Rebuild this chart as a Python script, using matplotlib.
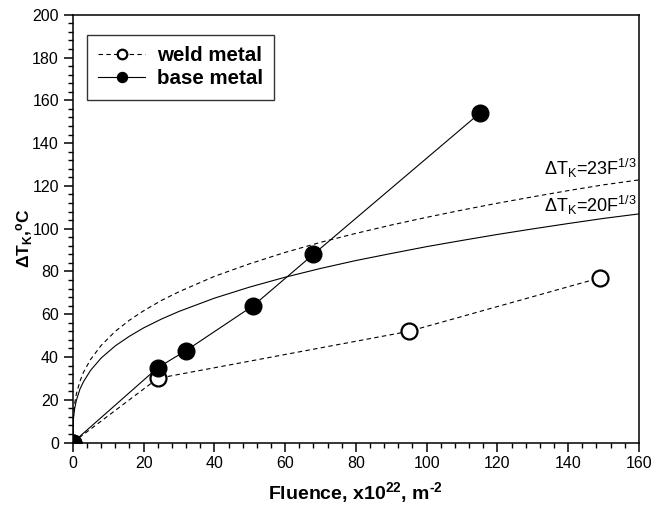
import matplotlib
matplotlib.use("Agg")
import matplotlib.pyplot as plt
from matplotlib.ticker import MultipleLocator

plt.rcParams['font.family'] = ['Liberation Sans', 'DejaVu Sans']
plt.rcParams['mathtext.fontset'] = 'custom'
plt.rcParams['mathtext.rm'] = 'Liberation Sans'
plt.rcParams['mathtext.it'] = 'Liberation Sans:italic'
plt.rcParams['mathtext.bf'] = 'Liberation Sans:bold'

# Data
weld_F = [0, 24, 95, 149]
weld_T = [0, 30, 52, 77]
base_F = [0, 24, 32, 51, 68, 115]
base_T = [0, 35, 43, 64, 88, 154]

# Curves (ΔT = 23F^1/3 dashed, ΔT = 20F^1/3 solid)
curve_F = [0, 0.2, 0.5, 1, 2, 3, 5, 8, 12, 16, 20, 25, 30, 40, 50, 60, 70, 80,
           90, 100, 110, 120, 130, 140, 150, 160]
curve23_T = [0, 13, 18, 22.7, 28.6, 32.8, 38.8, 45.4, 52, 57.2, 61.6, 66.4, 70.5,
             77.7, 83.6, 88.9, 93.6, 97.8, 101.7, 105.3, 108.7, 111.9, 114.9,
             117.8, 120.5, 122.8]
curve20_T = [0, 11.5, 15.7, 19.7, 24.9, 28.4, 33.7, 39.5, 45.2, 49.7, 53.6, 57.7,
             61.3, 67.5, 72.7, 77.3, 81.4, 85.1, 88.4, 91.6, 94.5, 97.3, 99.9,
             102.4, 104.8, 106.9]

x_ticks = [0, 20, 40, 60, 80, 100, 120, 140, 160]
y_ticks = [0, 20, 40, 60, 80, 100, 120, 140, 160, 180, 200]

fig = plt.figure(figsize=(6.56, 5.11), dpi=100)
ax = fig.add_axes([0.111, 0.134, 0.863, 0.837])

ax.plot(curve_F, curve23_T, color='black', lw=0.8, ls=(0, (4, 3)), zorder=2)
ax.plot(curve_F, curve20_T, color='black', lw=0.8, ls='-', zorder=2)

ax.plot(weld_F, weld_T, color='black', lw=0.8, ls=(0, (4, 3)), marker='o',
        markersize=11.5, markerfacecolor='white', markeredgecolor='black',
        markeredgewidth=1.6, label='weld metal', zorder=3)
ax.plot(base_F, base_T, color='black', lw=0.8, ls='-', marker='o',
        markersize=12, markerfacecolor='black', markeredgecolor='black',
        label='base metal', zorder=4)

ax.text(159.5, 125, r'ΔT$_\mathrm{K}$=23F$^{1/3}$', ha='right', va='baseline',
        fontsize=13)
ax.text(159.5, 108, r'ΔT$_\mathrm{K}$=20F$^{1/3}$', ha='right', va='baseline',
        fontsize=13)

ax.set_xlim(0, 160)
ax.set_ylim(0, 200)
ax.set_xticks(x_ticks)
ax.set_yticks(y_ticks)
ax.set_xticklabels([str(v) for v in x_ticks])
ax.set_yticklabels([str(v) for v in y_ticks])
ax.xaxis.set_minor_locator(MultipleLocator(4))
ax.yaxis.set_minor_locator(MultipleLocator(4))
ax.tick_params(which='major', direction='out', length=6.5, width=1.1,
               labelsize=11.5, top=False, right=False)
ax.tick_params(which='minor', direction='out', length=3.5, width=1.0,
               top=False, right=False)
for s in ax.spines.values():
    s.set_linewidth(1.1)

ax.set_xlabel('Fluence, x10$^\\mathbf{22}$, m$^\\mathbf{\u20102}$', fontsize=14,
              fontweight='bold', labelpad=6)
ax.set_ylabel(r'ΔT$_\mathbf{K}$,$^\mathbf{o}$C', fontsize=12.5,
              fontweight='bold')
ax.yaxis.set_label_coords(-0.067, 0.477)

leg = ax.legend(loc='upper left', bbox_to_anchor=(0.0247, 0.953), borderaxespad=0,
                frameon=True, fancybox=False, edgecolor='black',
                prop={'weight': 'bold', 'size': 14.8},
                markerscale=0.6, handlelength=2.3, borderpad=0.55,
                labelspacing=0.2, handletextpad=0.55)
leg.get_frame().set_linewidth(1.0)

fig.savefig('out.png', dpi=100)
